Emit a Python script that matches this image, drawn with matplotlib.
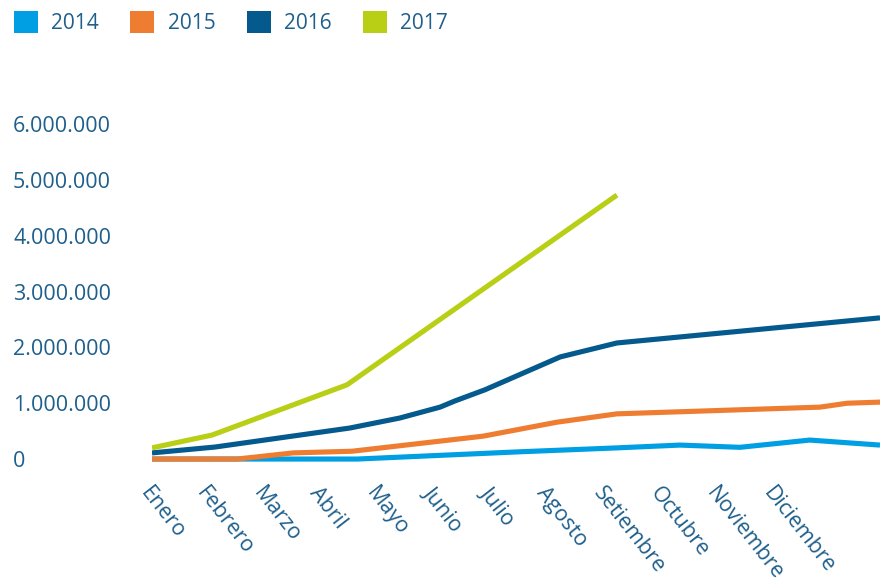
import matplotlib
matplotlib.use("Agg")
import matplotlib.pyplot as plt
from matplotlib.patches import Patch
from matplotlib.ticker import FuncFormatter

plt.rcParams["font.family"] = ["Open Sans", "DejaVu Sans"]

months = ["Enero", "Febrero", "Marzo", "Abril", "Mayo", "Junio", "Julio",
          "Agosto", "Setiembre", "Octubre", "Noviembre", "Diciembre"]

# x positions in month units (Enero = 0)
x_2014 = [0, 3.62, 6.49, 8.20, 9.31, 10.37, 11.60, 12.84]
y_2014 = [0, 0, 130000, 200000, 250000, 210000, 340000, 250000]

x_2015 = [0, 1.50, 2.49, 3.53, 5.84, 7.14, 8.20, 11.78, 12.26, 12.84]
y_2015 = [0, 0, 110000, 140000, 410000, 660000, 810000, 930000, 1000000, 1020000]

x_2016 = [0, 1.11, 3.49, 4.37, 5.08, 5.34, 5.87, 7.20, 8.20, 12.84]
y_2016 = [110000, 215000, 556000, 735000, 930000, 1040000, 1240000, 1830000, 2080000, 2530000]

x_2017 = [0, 1.06, 3.44, 8.20]
y_2017 = [200000, 430000, 1330000, 4730000]

series = [
    ("2014", x_2014, y_2014, "#009fe3"),
    ("2015", x_2015, y_2015, "#ee7d31"),
    ("2016", x_2016, y_2016, "#045a8d"),
    ("2017", x_2017, y_2017, "#b8cf16"),
]

text_color = "#1e5f8c"

W, H = 880, 579
fig = plt.figure(figsize=(W / 100, H / 100), dpi=100)
# axes: x from 152px to 880px, y bottom 470px, top 102px (from top)
ax = fig.add_axes([152 / W, (H - 470.2) / H, (880 - 152) / W, (470.2 - 101.9) / H])

for name, xs, ys, col in series:
    ax.plot(xs, ys, color=col, lw=3.7, solid_capstyle="butt", solid_joinstyle="round")

ax.set_xlim(0, 12.84)
ax.set_ylim(-200000, 6400000)

ax.set_yticks(range(0, 7000000, 1000000))
ax.yaxis.set_major_formatter(FuncFormatter(lambda v, p: f"{int(v):,}".replace(",", ".")))
ax.tick_params(axis="y", length=0, pad=100, labelsize=15.5, labelcolor=text_color)
for lab in ax.get_yticklabels():
    lab.set_horizontalalignment("left")

ax.set_xticks(range(len(months)))
ax.set_xticklabels(months, rotation=-52, ha="left", va="top", rotation_mode="anchor")
ax.tick_params(axis="x", length=0, pad=9, labelsize=15.5, labelcolor=text_color)

for s in ax.spines.values():
    s.set_visible(False)

handles = [Patch(facecolor=col, edgecolor="none", label=name) for name, _, _, col in series]
fig.legend(handles=handles, loc="upper left", bbox_to_anchor=(-1 / W, 1 + 4 / H),
           ncol=4, frameon=False, fontsize=15, labelcolor=text_color,
           handlelength=1.15, handleheight=1.3, handletextpad=0.65,
           columnspacing=1.5, borderpad=0.2)

fig.savefig("out.png", dpi=100)
